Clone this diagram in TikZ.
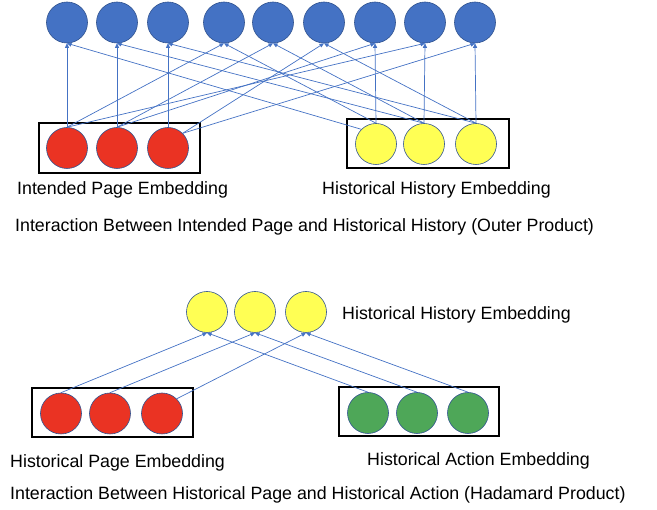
\documentclass[tikz,border=0pt]{standalone}
\usepackage{fontspec}
\setmainfont{Liberation Sans}
\usetikzlibrary{arrows.meta}
\definecolor{bluefill}{RGB}{68,114,196}
\definecolor{edgeblue}{RGB}{47,82,143}
\definecolor{redfill}{RGB}{234,51,35}
\definecolor{yellowfill}{RGB}{255,255,84}
\definecolor{greenfill}{RGB}{78,167,88}
\definecolor{linkblue}{RGB}{68,114,196}
\begin{document}
\begin{tikzpicture}[x=1pt,y=-1pt,
  unit/.style={circle, minimum size=41pt, inner sep=0pt, draw=edgeblue, line width=0.6pt},
  bunit/.style={unit, fill=bluefill},
  runit/.style={unit, fill=redfill},
  yunit/.style={unit, fill=yellowfill},
  gunit/.style={unit, fill=greenfill},
  group/.style={draw=black, line width=1.6pt, inner sep=0pt},
  link/.style={draw=linkblue, line width=0.7pt, -{Triangle[length=4.5pt,width=4pt]}},
  lbl/.style={font=\fontsize{17.8}{20}\selectfont, anchor=base west, inner sep=0pt}
]
\useasboundingbox (0,0) rectangle (657,510);

% ---------- Outer product ----------
\node[group, minimum width=161pt, minimum height=50pt] (box1) at (119.5,148) {};
\node[group, minimum width=162pt, minimum height=49pt] (box2) at (428,143.5) {};

\node[bunit] (b1) at (67,22.5) {};
\node[bunit] (b2) at (117,22.5) {};
\node[bunit] (b3) at (168,22.5) {};
\node[bunit] (b4) at (224,22.5) {};
\node[bunit] (b5) at (273,22.5) {};
\node[bunit] (b6) at (324,22.5) {};
\node[bunit] (b7) at (375,22.5) {};
\node[bunit] (b8) at (425,22.5) {};
\node[bunit] (b9) at (475,22.5) {};

\node[runit] (r1) at (67,148) {};
\node[runit] (r2) at (117,148) {};
\node[runit] (r3) at (168,148) {};

\node[yunit] (y1) at (376,144) {};
\node[yunit] (y2) at (424,144) {};
\node[yunit] (y3) at (476,144) {};

\draw[link] (r1.north) -- (b1.south);
\draw[link] (r1.north) -- (b4.south);
\draw[link] (r1.north) -- (b8.south);
\draw[link] (r2.north) -- (b2.south);
\draw[link] (r2.north) -- (b5.south);
\draw[link] (r2.north) -- (b7.south);
\draw[link] (r3.north) -- (b3.south);
\draw[link] (r3.north east) -- (b6.south);
\draw[link] (r3.north east) -- (b9.south);

\draw[link] (y1.north) -- (b7.south);
\draw[link] (y1.north) -- (b4.south);
\draw[link] (y1.north west) -- (b1.south);
\draw[link] (y2.north) -- (b8.south);
\draw[link] (y2.north) -- (b5.south);
\draw[link] (y2.north) -- (b2.south);
\draw[link] (y3.north) -- (b9.south);
\draw[link] (y3.north) -- (b6.south);
\draw[link] (y3.north) -- (b3.south);

\node[lbl] (t1) at (17,195) {Intended Page Embedding};
\node[lbl] (t2) at (322,195) {Historical History Embedding};
\node[lbl] (t3) at (15,232) {Interaction Between Intended Page and Historical History (Outer Product)};

% ---------- Hadamard product ----------
\node[group, minimum width=161pt, minimum height=49pt] (box3) at (112.5,412.5) {};
\node[group, minimum width=160pt, minimum height=49pt] (box4) at (419,411.5) {};

\node[yunit] (hy1) at (207,312) {};
\node[yunit] (hy2) at (255,312) {};
\node[yunit] (hy3) at (306,312) {};

\node[runit] (hr1) at (61,413.5) {};
\node[runit] (hr2) at (110,413.5) {};
\node[runit] (hr3) at (162,413.5) {};

\node[gunit] (g1) at (368,413) {};
\node[gunit] (g2) at (417,413) {};
\node[gunit] (g3) at (468,413) {};

\draw[link] (hr1.north) -- (hy1.south);
\draw[link] (hr2.north) -- (hy2.south);
\draw[link] (hr3.north east) -- (hy3.south);
\draw[link] (g1.north) -- (hy1.south);
\draw[link] (g2.north) -- (hy2.south);
\draw[link] (g3.north) -- (hy3.south);

\node[lbl] (t4) at (342,320) {Historical History Embedding};
\node[lbl] (t5) at (10,468) {Historical Page Embedding};
\node[lbl] (t6) at (367,466) {Historical Action Embedding};
\node[lbl] (t7) at (10,500) {Interaction Between Historical Page and Historical Action (Hadamard Product)};
\end{tikzpicture}
\end{document}
